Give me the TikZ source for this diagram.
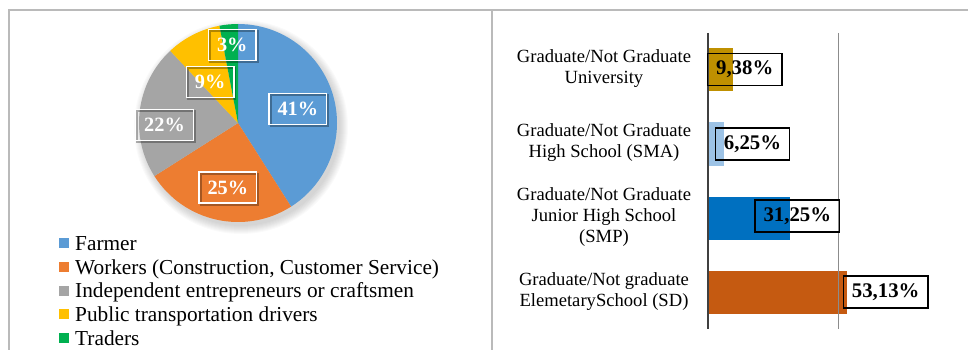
\documentclass[tikz,border=0pt]{standalone}
\usepackage{fontspec}
\setmainfont{Liberation Serif}
\definecolor{farmer}{HTML}{5B9BD5}
\definecolor{workers}{HTML}{ED7D31}
\definecolor{indep}{HTML}{A5A5A5}
\definecolor{public}{HTML}{FFC000}
\definecolor{traders}{HTML}{00B050}
\definecolor{univ}{HTML}{BF9000}
\definecolor{sma}{HTML}{9DC3E6}
\definecolor{smp}{HTML}{0070C0}
\definecolor{sd}{HTML}{C55A11}
\begin{document}
\begin{tikzpicture}[x=1pt, y=-1pt,
	frame/.style={draw=black!27, line width=1.5pt},
	pielabel/.style={draw=white, line width=1.3pt, text=white, font=\fontsize{20.3}{24}\selectfont\bfseries, inner xsep=8.5pt, inner ysep=0pt, minimum height=31pt, preaction={draw=black, draw opacity=0.3, line width=2pt, transform canvas={xshift=1.5pt, yshift=-1.5pt}}},
	barlabel/.style={draw=black, line width=1.5pt, font=\fontsize{20.8}{24}\selectfont\bfseries, inner xsep=8.5pt, inner ysep=0pt, minimum height=32pt},
	catlabel/.style={align=center, font=\fontsize{18.6}{21}\selectfont, inner sep=0pt},
	legbox/.style={minimum size=10pt, inner sep=0pt},
	legtext/.style={anchor=base west, font=\fontsize{21.3}{24}\selectfont, inner sep=0pt}]
				\useasboundingbox (0,0) rectangle (968,350);
				\draw[frame] (8,10) -- (968,10);
				\draw[frame] (9,10) -- (9,350);
				\draw[frame] (492,10) -- (492,350);
				\foreach \k in {1,...,9}
					\fill[black, opacity=0.018] (241,127) circle[radius=98+\k];
				\coordinate (C)at(238, 123);
				\fill[farmer] (C) -- ++(-90:99) arc[start angle=-90, end angle=57.6, radius=99] -- cycle;
				\fill[workers] (C) -- ++(57.6:99) arc[start angle=57.6, end angle=147.6, radius=99] -- cycle;
				\fill[indep] (C) -- ++(147.6:99) arc[start angle=147.6, end angle=226.8, radius=99] -- cycle;
				\fill[public] (C) -- ++(226.8:99) arc[start angle=226.8, end angle=259.2, radius=99] -- cycle;
				\fill[traders] (C) -- ++(259.2:99) arc[start angle=259.2, end angle=270, radius=99] -- cycle;
				\node[pielabel] (P41)at(297.8, 108.7) {41\%};
				\node[pielabel] (P25)at(227.8, 187.5) {25\%};
				\node[pielabel] (P22)at(164.5, 124.7) {22\%};
				\node[pielabel] (P9)at(210.2, 82.2) {9\%};
				\node[pielabel] (P3)at(232.3, 45.2) {3\%};
				\node[legbox, fill=farmer] (LF)at(64, 243) {};
				\node[legbox, fill=workers] (LW)at(64, 267) {};
				\node[legbox, fill=indep] (LI)at(64, 290.7) {};
				\node[legbox, fill=public] (LP)at(64, 314.3) {};
				\node[legbox, fill=traders] (LT)at(64, 338) {};
				\node[legtext] (TF)at(75, 250) {Farmer};
				\node[legtext] (TW)at(75, 274) {Workers (Construction, Customer Service)};
				\node[legtext] (TI)at(75, 297.7) {Independent entrepreneurs or craftsmen};
				\node[legtext] (TP)at(75, 321.3) {Public transportation drivers};
				\node[legtext] (TT)at(75, 345) {Traders};
				\fill[univ] (708, 47.7) rectangle (732.5, 90.7);
				\fill[sma] (708, 122) rectangle (724.3, 166);
				\fill[smp] (708, 197) rectangle (789.6, 240);
				\fill[sd] (708, 271) rectangle (846.7, 314);
				\draw[black!45, line width=0.8pt] (838, 33) -- (838, 329);
				\draw[black!75, line width=2.5pt] (708, 33) -- (708, 329);
				\node[catlabel] (CU)at(604, 68.8) {Graduate/Not Graduate\\University};
				\node[catlabel] (CA)at(604, 143) {Graduate/Not Graduate\\High School (SMA)};
				\node[catlabel] (CP)at(604, 217) {Graduate/Not Graduate\\Junior High School\\(SMP)};
				\node[catlabel] (CD)at(604, 291.7) {Graduate/Not graduate\\ElemetarySchool (SD)};
				\node[barlabel] (BU)at(744.7, 69.5) {9,38\%};
				\node[barlabel] (BA)at(752.5, 144) {6,25\%};
				\node[barlabel] (BP)at(797.3, 216) {31,25\%};
				\node[barlabel] (BD)at(885.7, 292) {53,13\%};
			\end{tikzpicture}
\end{document}
